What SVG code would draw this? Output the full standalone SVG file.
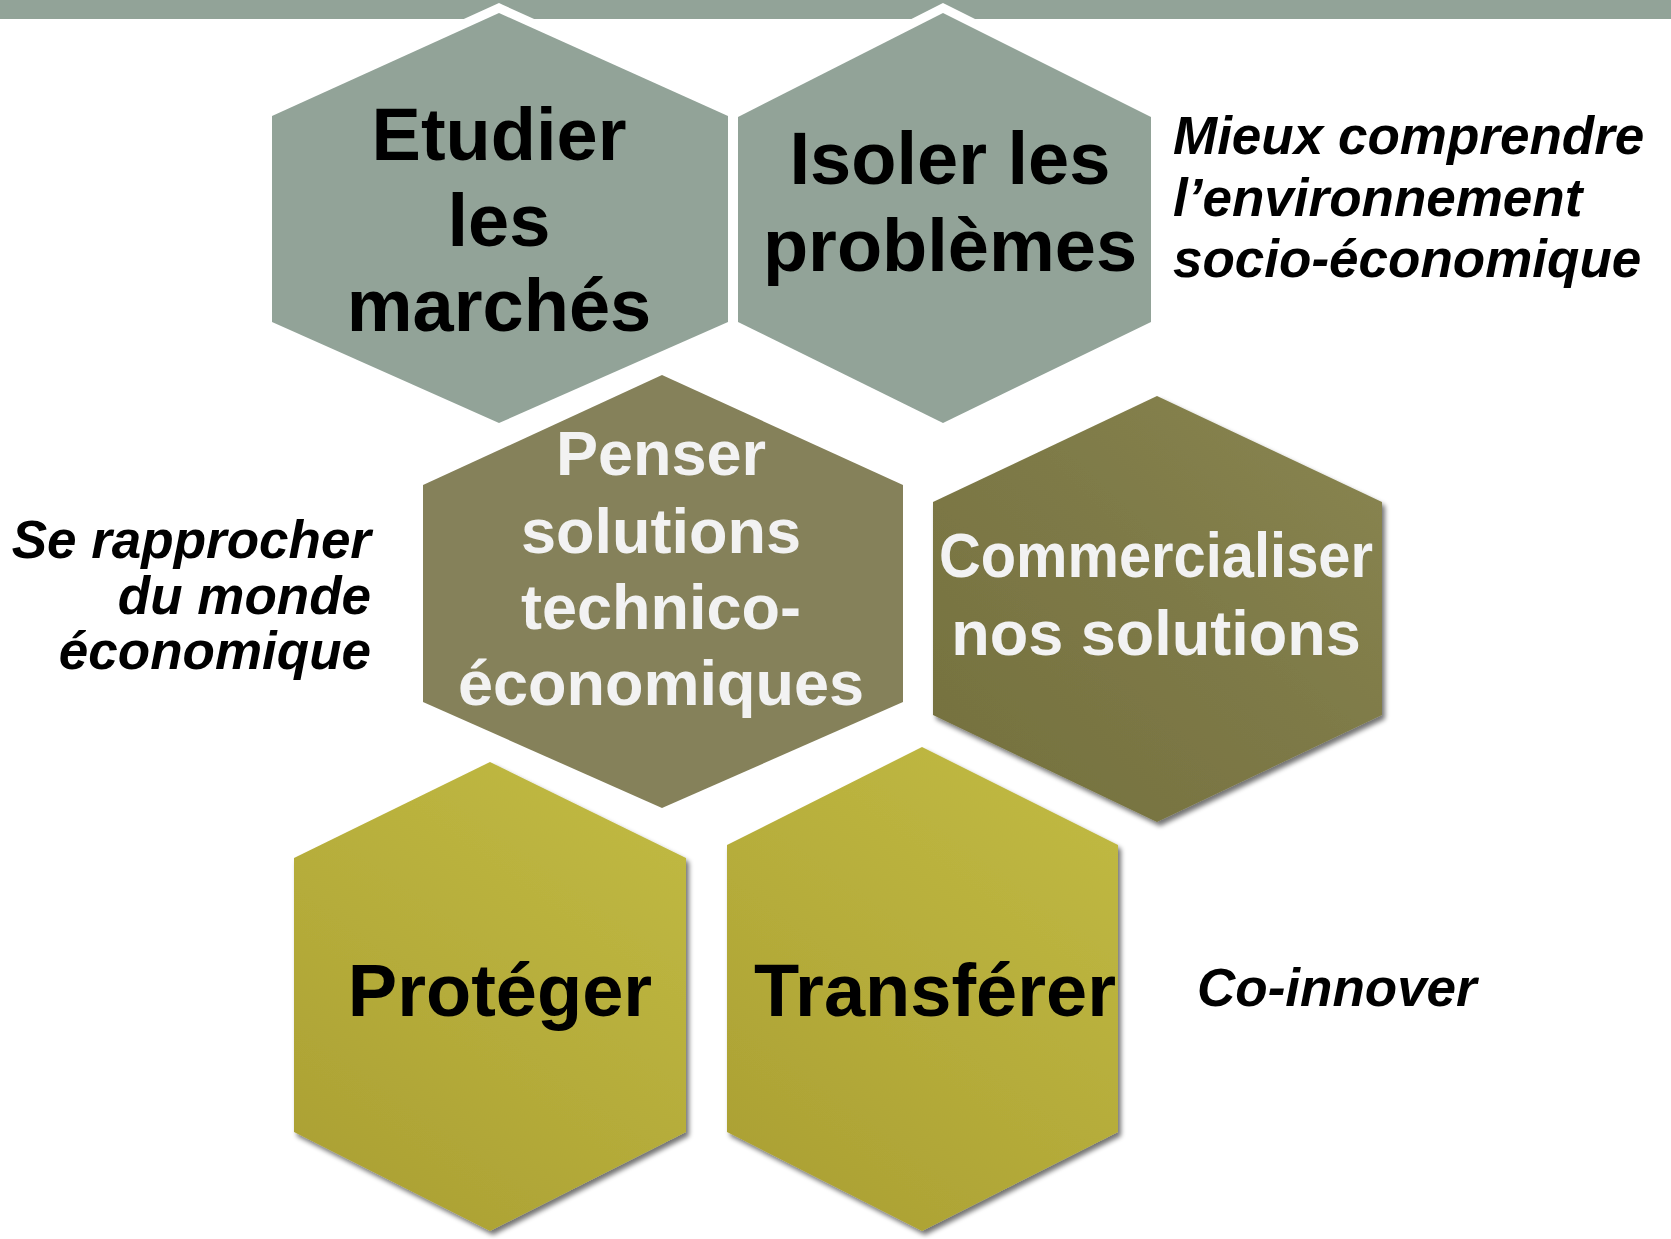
<svg xmlns="http://www.w3.org/2000/svg" width="1671" height="1239" viewBox="0 0 1671 1239">
  <defs>
    <style>
      .gray { fill: #92a398; stroke: #ffffff; stroke-width: 18; paint-order: stroke; }
      .olive { fill: #85815a; }
      .dark { fill: url(#gDark); filter: url(#shadow); }
      .yellow { fill: url(#gYellow); filter: url(#shadow); }
      .t-big { font-family: "Liberation Sans", Arial, sans-serif; font-weight: bold; font-size: 74px; fill: #000000; text-anchor: middle; }
      .t-white { font-family: "Liberation Sans", Arial, sans-serif; font-weight: bold; font-size: 63px; fill: #f2f2f2; text-anchor: middle; }
      .t-side { font-family: "Liberation Sans", Arial, sans-serif; font-weight: bold; font-style: italic; font-size: 53px; fill: #000000; }
    </style>
    <linearGradient id="gDark" x1="0" y1="1" x2="1" y2="0">
      <stop offset="0" stop-color="#74703e"/>
      <stop offset="0.55" stop-color="#7e7a47"/>
      <stop offset="1" stop-color="#8a8652"/>
    </linearGradient>
    <linearGradient id="gYellow" x1="0.1" y1="1" x2="0.7" y2="0">
      <stop offset="0" stop-color="#aa9f33"/>
      <stop offset="0.5" stop-color="#b5ac3a"/>
      <stop offset="1" stop-color="#bfb842"/>
    </linearGradient>
    <filter id="shadow" x="-10%" y="-10%" width="125%" height="125%">
      <feGaussianBlur in="SourceAlpha" stdDeviation="2.5"/>
      <feOffset dx="3" dy="4" result="b"/>
      <feComponentTransfer><feFuncA type="linear" slope="0.55"/></feComponentTransfer>
      <feMerge><feMergeNode/><feMergeNode in="SourceGraphic"/></feMerge>
    </filter>
  </defs>

  <rect x="0" y="0" width="1671" height="19" fill="#92a398"/>

  <g id="connectors"></g>

  <g id="node-etudier">
    <polygon class="gray" points="499,13 728,116 728,322 499,423 272,322 272,116"/>
    <text class="t-big" x="499" y="160">Etudier</text>
    <text class="t-big" x="499" y="246">les</text>
    <text class="t-big" x="499" y="331">marchés</text>
  </g>

  <g id="node-isoler">
    <polygon class="gray" points="943,13 1151,117 1151,322 943,423 738,322 738,117"/>
    <text class="t-big" x="950" y="184">Isoler les</text>
    <text class="t-big" x="950" y="271">problèmes</text>
  </g>

  <g id="node-penser">
    <polygon class="olive" points="662,375 903,485 903,702 662,808 423,702 423,485"/>
    <text class="t-white" x="661" y="475">Penser</text>
    <text class="t-white" x="661" y="553">solutions</text>
    <text class="t-white" x="661" y="629">technico-</text>
    <text class="t-white" x="661" y="705">économiques</text>
  </g>

  <g id="node-commercialiser">
    <polygon class="dark" points="1157,396 1382,502 1382,715 1157,822 933,715 933,502"/>
    <text class="t-white" x="1156" y="577" font-size="62" textLength="434" lengthAdjust="spacingAndGlyphs">Commercialiser</text>
    <text class="t-white" x="1156" y="655" font-size="64">nos solutions</text>
  </g>

  <g id="node-proteger">
    <polygon class="yellow" points="490,762 686,858 686,1132 490,1231 294,1132 294,858"/>
    <text class="t-big" x="500" y="1016" font-size="73">Protéger</text>
  </g>

  <g id="node-transferer">
    <polygon class="yellow" points="922,747 1118,845 1118,1132 922,1231 727,1132 727,845"/>
    <text class="t-big" x="935" y="1016" font-size="73">Transférer</text>
  </g>

  <g id="label-mieux">
    <text class="t-side" x="1173" y="154">Mieux comprendre</text>
    <text class="t-side" x="1173" y="216">l’environnement</text>
    <text class="t-side" x="1173" y="277">socio-économique</text>
  </g>

  <g id="label-rapprocher">
    <text class="t-side" x="371" y="558" text-anchor="end">Se rapprocher</text>
    <text class="t-side" x="371" y="614" text-anchor="end">du monde</text>
    <text class="t-side" x="371" y="669" text-anchor="end">économique</text>
  </g>

  <g id="label-coinnover">
    <text class="t-side" x="1197" y="1006">Co-innover</text>
  </g>
</svg>
